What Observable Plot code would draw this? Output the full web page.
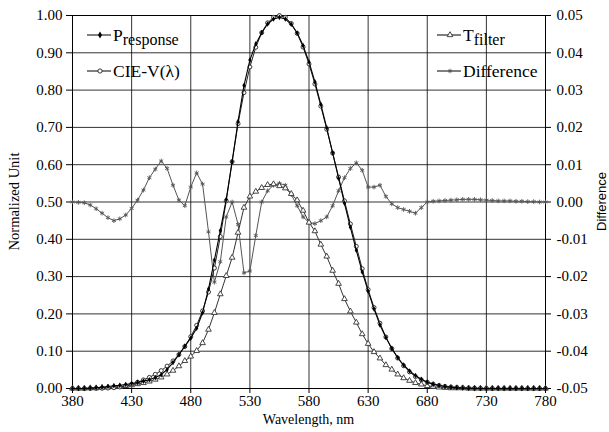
<!DOCTYPE html>
<html><head><meta charset="utf-8">
<script src="https://cdn.jsdelivr.net/npm/d3@7"></script>
<script src="https://cdn.jsdelivr.net/npm/@observablehq/plot@0.6"></script>
<style>
body{margin:0;background:#fff}
#chart{width:609px;height:432px}
</style>
</head><body><div id="chart"></div>
<script>
const wavelengths = [
 380,385,390,395,400,405,410,415,420,425,
 430,435,440,445,450,455,460,465,470,475,
 480,485,490,495,500,505,510,515,520,525,
 530,535,540,545,550,555,560,565,570,575,
 580,585,590,595,600,605,610,615,620,625,
 630,635,640,645,650,655,660,665,670,675,
 680,685,690,695,700,705,710,715,720,725,
 730,735,740,745,750,755,760,765,770,775,780];

const pResponse = [
 0.0000,0.0002,0.0003,0.0010,0.0022,0.0036,0.0054,0.0072,0.0085,0.0108,
 0.0133,0.0163,0.0198,0.0233,0.0292,0.0370,0.0510,0.0694,0.0905,0.1136,
 0.1350,0.1615,0.2032,0.2666,0.3445,0.4233,0.5070,0.6082,0.7160,0.8122,
 0.8805,0.9239,0.9540,0.9773,0.9905,0.9950,0.9905,0.9766,0.9530,0.9194,
 0.8755,0.8221,0.7620,0.6989,0.6320,0.5638,0.4965,0.4322,0.3705,0.3125,
 0.2610,0.2130,0.1705,0.1367,0.1075,0.0831,0.0630,0.0471,0.0350,0.0247,
 0.0170,0.0117,0.0079,0.0053,0.0036,0.0023,0.0014,0.0008,0.0003,0.0001,
 0.0000,0.0000,0.0000,0.0000,0.0000,0.0000,0.0000,0.0000,0.0000,0.0000,0.0000];

const cieV = [
 0.0000,0.0001,0.0001,0.0002,0.0004,0.0006,0.0012,0.0022,0.0040,0.0073,
 0.0116,0.0168,0.0230,0.0298,0.0380,0.0480,0.0600,0.0739,0.0910,0.1126,
 0.1390,0.1693,0.2080,0.2586,0.3230,0.4073,0.5030,0.6082,0.7100,0.7932,
 0.8620,0.9149,0.9540,0.9803,0.9950,1.0000,0.9950,0.9786,0.9520,0.9154,
 0.8700,0.8163,0.7570,0.6949,0.6310,0.5668,0.5030,0.4412,0.3810,0.3210,
 0.2650,0.2170,0.1750,0.1382,0.1070,0.0816,0.0610,0.0446,0.0320,0.0232,
 0.0170,0.0119,0.0082,0.0057,0.0041,0.0029,0.0021,0.0015,0.0010,0.0007,
 0.0005,0.0004,0.0002,0.0002,0.0001,0.0001,0.0001,0.0000,0.0000,0.0000,0.0000];

const tFilter = [
 0.000,0.000,0.000,0.001,0.001,0.002,0.003,0.004,0.005,0.007,
 0.009,0.012,0.015,0.019,0.024,0.030,0.038,0.048,0.060,0.074,
 0.086,0.101,0.122,0.158,0.203,0.253,0.302,0.351,0.418,0.485,
 0.515,0.528,0.538,0.546,0.548,0.543,0.537,0.522,0.505,0.477,
 0.445,0.422,0.386,0.354,0.316,0.281,0.240,0.207,0.177,0.146,
 0.120,0.098,0.081,0.063,0.051,0.038,0.028,0.021,0.015,0.011,
 0.007,0.005,0.003,0.002,0.001,0.001,0.001,0.000,0.000,0.000,
 0.000,0.000,0.000,0.000,0.000,0.000,0.000,0.000,0.000,0.000,0.000];

const difference = [
 0.0000,-0.0001,-0.0002,-0.0008,-0.0018,-0.0030,-0.0042,-0.0050,-0.0045,-0.0035,
 -0.0017,0.0005,0.0032,0.0065,0.0088,0.0110,0.0090,0.0045,0.0005,-0.0010,
 0.0040,0.0078,0.0048,-0.0080,-0.0215,-0.0160,-0.0040,0.0000,-0.0060,-0.0190,
 -0.0185,-0.0090,0.0000,0.0030,0.0045,0.0050,0.0045,0.0020,-0.0010,-0.0040,
 -0.0055,-0.0058,-0.0050,-0.0040,-0.0010,0.0030,0.0065,0.0090,0.0105,0.0085,
 0.0040,0.0040,0.0045,0.0015,-0.0005,-0.0015,-0.0020,-0.0025,-0.0030,-0.0015,
 0.0000,0.0002,0.0003,0.0004,0.0005,0.0006,0.0007,0.0007,0.0007,0.0006,
 0.0005,0.0004,0.0003,0.0003,0.0003,0.0002,0.0002,0.0001,0.0001,0.0000,0.0000];

const xTicks = [380,430,480,530,580,630,680,730,780];
const yTicks = [0,0.1,0.2,0.3,0.4,0.5,0.6,0.7,0.8,0.9,1.0];
const diffTicks = [-0.05,-0.04,-0.03,-0.02,-0.01,0,0.01,0.02,0.03,0.04,0.05];

// the right (Difference) axis spans -0.05..0.05 over the same height as 0..1
const diffToY = d => 0.5 + d * 10;
const yToDiff = y => Math.round((y - 0.5) * 10) / 100;

const rows = wavelengths.map((w, i) => ({
  wl: w, p: pResponse[i], v: cieV[i], t: tFilter[i], d: diffToY(difference[i])
}));

const W = 609, H = 432, mL = 72, mR = 64, mT = 15, mB = 44;
const SERIF = "Liberation Serif";

const chart = Plot.plot({
  width: W, height: H,
  marginLeft: mL, marginRight: mR, marginTop: mT, marginBottom: mB,
  style: {fontSize: "15px", fontFamily: SERIF, color: "#000", background: "#fff"},
  x: {domain: [380, 780]},
  y: {domain: [0, 1]},
  marks: [
    Plot.gridX(xTicks, {stroke: "#000", strokeOpacity: 0.8}),
    Plot.gridY(yTicks, {stroke: "#000", strokeOpacity: 0.8}),
    Plot.axisX(xTicks, {tickSize: 5, tickPadding: 2, label: null, tickFormat: d => String(d), stroke: "#000"}),
    Plot.axisY(yTicks, {tickSize: 6, tickPadding: 4, label: null, tickFormat: d => d.toFixed(2), stroke: "#000"}),
    Plot.axisY(diffTicks.map(diffToY), {anchor: "right", tickSize: 5, tickPadding: 6, label: null,
      tickFormat: d => yToDiff(d).toFixed(2), stroke: "#000"}),
    Plot.frame({stroke: "#000"}),
    // Difference (right axis)
    Plot.line(rows, {x: "wl", y: "d", stroke: "#555", strokeWidth: 1}),
    Plot.dot(rows, {x: "wl", y: "d", symbol: "asterisk", r: 2.2, stroke: "#555", strokeWidth: 0.9}),
    // T filter
    Plot.line(rows, {x: "wl", y: "t", stroke: "#333", strokeWidth: 1}),
    Plot.dot(rows, {x: "wl", y: "t", symbol: "triangle", r: 2.1, fill: "#fff", stroke: "#333", strokeWidth: 0.9}),
    // CIE V(λ)
    Plot.line(rows, {x: "wl", y: "v", stroke: "#222", strokeWidth: 1}),
    Plot.dot(rows, {x: "wl", y: "v", symbol: "circle", r: 2.0, fill: "#fff", stroke: "#222", strokeWidth: 0.9}),
    // P response
    Plot.line(rows, {x: "wl", y: "p", stroke: "#000", strokeWidth: 1.1}),
    Plot.dot(rows, {x: "wl", y: "p", symbol: "diamond", r: 1.7, fill: "#000", stroke: "none"})
  ]
});

const svg = d3.select(chart);
const sx = chart.scale("x"), sy = chart.scale("y");
const x0 = sx.apply(380), x1 = sx.apply(780), yTop = sy.apply(1), yBot = sy.apply(0);

function addText(sel, family) {
  return sel.append("text").attr("font-family", family).style("font-family", family);
}

// Axis titles
addText(svg, SERIF).attr("x", (x0 + x1) / 2).attr("y", H - 8)
  .attr("text-anchor", "middle").style("font-size", "14px")
  .text("Wavelength, nm");
addText(svg, SERIF).attr("transform", `translate(14,${(yTop + yBot) / 2}) rotate(-90)`)
  .attr("text-anchor", "middle").attr("dy", "0.35em").style("font-size", "14.5px")
  .text("Normalized Unit");
addText(svg, "Liberation Sans").attr("transform", `translate(601,${(yTop + yBot) / 2}) rotate(-90)`)
  .attr("text-anchor", "middle").attr("dy", "0.35em").style("font-size", "13px")
  .text("Difference");

// Legend
const legendItems = [
  {main: "P", sub: "response", sym: d3.symbolDiamond, fill: "#000", stroke: null, col: 0, row: 0},
  {main: "CIE-V(λ)", sub: null, sym: d3.symbolCircle, fill: "#fff", stroke: "#222", col: 0, row: 1},
  {main: "T", sub: "filter", sym: d3.symbolTriangle, fill: "#fff", stroke: "#333", col: 1, row: 0},
  {main: "Difference", sub: null, sym: d3.symbolAsterisk, fill: "none", stroke: "#555", col: 1, row: 1}
];
const colX = [x0 + 15, x1 - 108];
const rowY = [yTop + 20, yTop + 56];
const g = svg.append("g");
legendItems.forEach(it => {
  const lx = colX[it.col], ly = rowY[it.row];
  g.append("line").attr("x1", lx).attr("x2", lx + 24).attr("y1", ly).attr("y2", ly)
    .attr("stroke", "#000").attr("stroke-width", 1);
  g.append("path").attr("d", d3.symbol(it.sym, 14)()).attr("transform", `translate(${lx + 13},${ly})`)
    .attr("fill", it.fill).attr("stroke", it.stroke).attr("stroke-width", 0.9);
  const t = addText(g, SERIF).attr("x", lx + 26).attr("y", ly).attr("dy", "0.35em")
    .attr("text-anchor", "start").style("font-size", "17.5px");
  t.append("tspan").text(it.main);
  if (it.sub) t.append("tspan").attr("dy", "4").style("font-size", "16px").text(it.sub);
});

document.getElementById("chart").appendChild(chart);
</script>
</body></html>
